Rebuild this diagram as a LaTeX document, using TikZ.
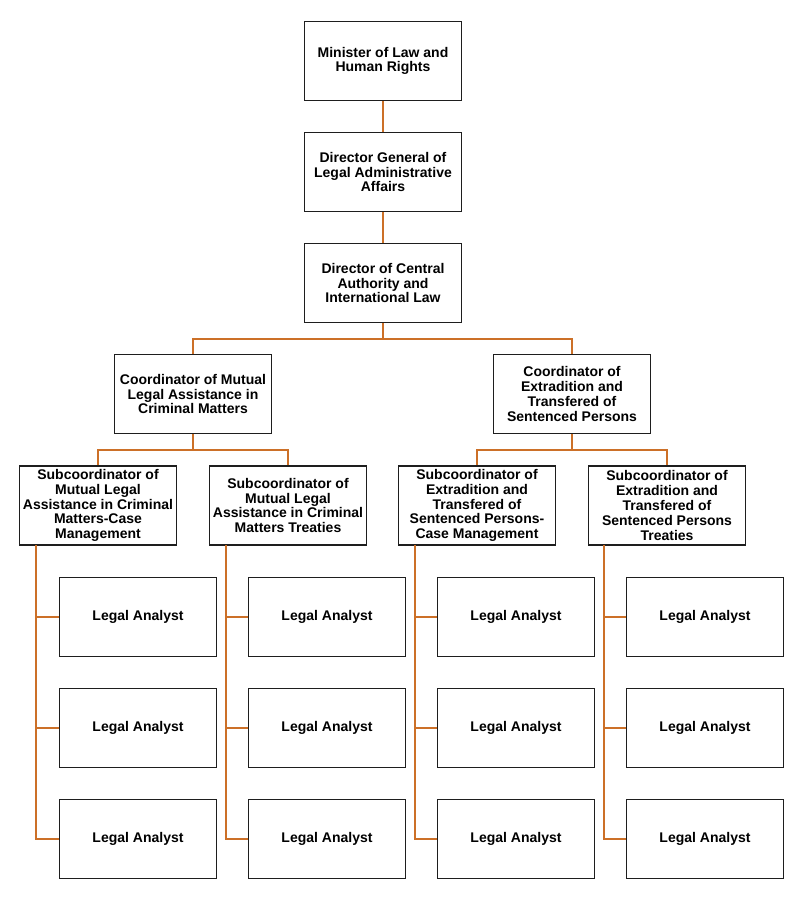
\documentclass[tikz,border=0pt]{standalone}
\usepackage{fontspec}
\setmainfont{Liberation Sans}
\definecolor{conn}{RGB}{204,112,40}
\definecolor{frame}{RGB}{30,30,30}
\begin{document}
\begin{tikzpicture}[x=1pt,y=-1pt,
  box/.style={draw=frame,line width=1.3pt,fill=white,rectangle,minimum width=157pt,minimum height=79pt,inner sep=1pt,align=center,font=\bfseries\fontsize{14}{14.8}\selectfont},
  link/.style={draw=conn,line width=1.5pt}]
\useasboundingbox (0,0) rectangle (806,905);
% top chain
\node[box] (n1) at (383,61) {Minister of Law and\\Human Rights};
\node[box] (n2) at (383,172) {Director General of\\Legal Administrative\\Affairs};
\node[box] (n3) at (383,283) {Director of Central\\Authority and\\International Law};
% coordinators
\node[box] (c1) at (193,394) {Coordinator of Mutual\\Legal Assistance in\\Criminal Matters};
\node[box] (c2) at (572,394) {Coordinator of\\Extradition and\\Transfered of\\Sentenced Persons};
% subcoordinators
\node[box] (s1) at (98,505.5) {Subcoordinator of\\Mutual Legal\\Assistance in Criminal\\Matters-Case\\Management};
\node[box] (s2) at (288,505.5) {Subcoordinator of\\Mutual Legal\\Assistance in Criminal\\Matters Treaties};
\node[box] (s3) at (477,505.5) {Subcoordinator of\\Extradition and\\Transfered of\\Sentenced Persons-\\Case Management};
\node[box] (s4) at (667,505.5) {Subcoordinator of\\Extradition and\\Transfered of\\Sentenced Persons\\Treaties};
% analysts
\foreach \i/\x in {1/138,2/327,3/516,4/705}{
  \node[box] (a\i1) at (\x,617) {Legal Analyst};
  \node[box] (a\i2) at (\x,728) {Legal Analyst};
  \node[box] (a\i3) at (\x,839) {Legal Analyst};
}
% connectors
\draw[link] (n1) -- (n2);
\draw[link] (n2) -- (n3);
\coordinate (j0) at (383,339);
\draw[link] (n3) -- (j0);
\draw[link] (j0) -| (c1);
\draw[link] (j0) -| (c2);
\coordinate (j1) at (193,450);
\coordinate (j2) at (572,450);
\draw[link] (c1) -- (j1);
\draw[link] (j1) -| (s1);
\draw[link] (j1) -| (s2);
\draw[link] (c2) -- (j2);
\draw[link] (j2) -| (s3);
\draw[link] (j2) -| (s4);
\foreach \i/\x in {1/36,2/226,3/415,4/604}{
  \coordinate (v\i) at (\x,545);
  \draw[link] (v\i) |- (a\i1.west);
  \draw[link] (v\i) |- (a\i2.west);
  \draw[link] (v\i) |- (a\i3.west);
}
\end{tikzpicture}
\end{document}
